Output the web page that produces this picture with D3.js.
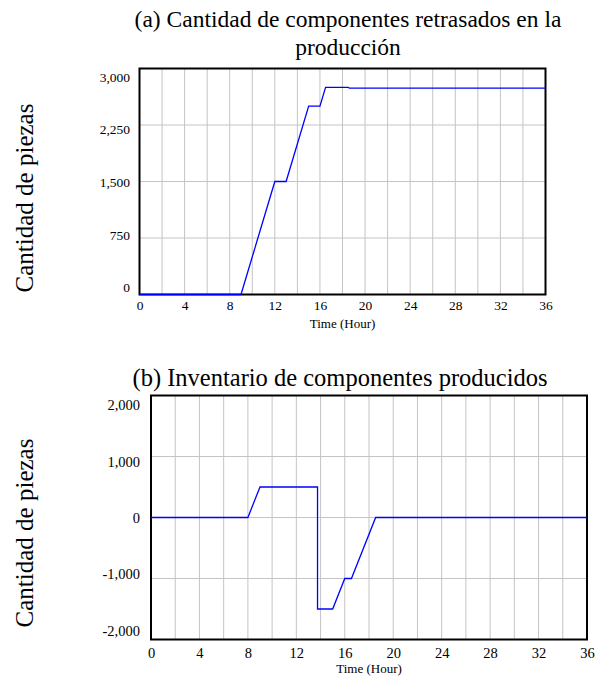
<!DOCTYPE html>
<html>
<head>
<meta charset="utf-8">
<script src="https://cdn.jsdelivr.net/npm/d3@7/dist/d3.min.js"></script>
<style>
  html, body { margin: 0; padding: 0; background: #fff; }
  svg text { font-family: "Liberation Serif", "Times New Roman", serif; fill: #000; }
</style>
</head>
<body>
<svg id="fig" width="606" height="678"></svg>
<script>
// Panel (a): delayed components in production
const timeA  = [0, 9, 12, 13, 15, 16, 16.5, 18.5, 18.6, 36];
const valueA = [0, 0, 1500, 1500, 2500, 2500, 2750, 2750, 2740, 2740];
const yTicksA = [0, 750, 1500, 2250, 3000];

// Panel (b): inventory of produced components
const timeB  = [0, 8, 9, 13.75, 13.75, 15, 16, 16.55, 18.55, 36];
const valueB = [0, 0, 500, 500, -1500, -1500, -1000, -1000, 0, 0];
const yTicksB = [-2000, -1000, 0, 1000, 2000];

const xTicks = [0, 4, 8, 12, 16, 20, 24, 28, 32, 36];
const xGrid  = d3.range(0, 37, 2);

const titleA = ["(a) Cantidad de componentes retrasados en la", "producción"];
const titleB = ["(b) Inventario de componentes producidos"];
const yTitle = "Cantidad de piezas";
const xTitle = "Time (Hour)";

const locale = d3.formatLocale({decimal: ".", thousands: ",", grouping: [3], currency: ["", ""], minus: "-"});
const fmt = locale.format(",");

const svg = d3.select("#fig");

function panel(cfg) {
  const x = d3.scaleLinear().domain([0, 36]).range([cfg.left, cfg.right]);
  const y = d3.scaleLinear().domain(cfg.yDomain).range([cfg.bottom, cfg.top]);
  // tick labels sit slightly inside the frame at the ends
  const yLab = d3.scaleLinear().domain(cfg.yDomain).range([cfg.bottom - cfg.labInsetBottom, cfg.top + cfg.labInsetTop]);
  const g = svg.append("g");

  // grid
  g.append("g").selectAll("line").data(xGrid).join("line")
    .attr("x1", d => x(d)).attr("x2", d => x(d))
    .attr("y1", cfg.top).attr("y2", cfg.bottom)
    .attr("stroke", "#c4c4c4").attr("stroke-width", 1);
  g.append("g").selectAll("line").data(cfg.yTicks).join("line")
    .attr("x1", cfg.left).attr("x2", cfg.right)
    .attr("y1", d => y(d)).attr("y2", d => y(d))
    .attr("stroke", "#c4c4c4").attr("stroke-width", 1);

  // frame
  g.append("rect")
    .attr("x", cfg.left).attr("y", cfg.top)
    .attr("width", cfg.right - cfg.left).attr("height", cfg.bottom - cfg.top)
    .attr("fill", "none").attr("stroke", "#000").attr("stroke-width", 2);

  // series
  const pts = cfg.t.map((t, i) => [t, cfg.v[i]]);
  g.append("path").datum(pts)
    .attr("d", d3.line().x(d => x(d[0])).y(d => y(d[1])))
    .attr("fill", "none").attr("stroke", "#0000ff").attr("stroke-width", 1.3);

  // axes
  const ax = g.append("g").attr("transform", `translate(0,${cfg.bottom})`)
    .call(d3.axisBottom(x).tickValues(xTicks).tickSize(0).tickPadding(cfg.xPad).tickFormat(d3.format("d")));
  ax.select(".domain").remove();
  ax.selectAll("text").style("font-size", cfg.tickFont + "px").style("font-family", "Liberation Serif");

  const ay = g.append("g").attr("transform", `translate(${cfg.left},0)`)
    .call(d3.axisLeft(yLab).tickValues(cfg.yTicks).tickSize(0).tickPadding(cfg.yPad).tickFormat(fmt));
  ay.select(".domain").remove();
  ay.selectAll("text").style("font-size", cfg.tickFont + "px").style("font-family", "Liberation Serif");

  // x title
  g.append("text").attr("x", (cfg.left + cfg.right) / 2).attr("y", cfg.bottom + cfg.xTitleDy)
    .attr("text-anchor", "middle").style("font-size", "13px").text(xTitle);

  // y title
  g.append("text").attr("transform", `translate(33,${cfg.yTitleY}) rotate(-90)`)
    .attr("text-anchor", "middle").style("font-size", "25px").text(yTitle);

  // panel title
  g.append("g").selectAll("text").data(cfg.title).join("text")
    .attr("x", cfg.titleX).attr("y", (d, i) => cfg.titleY + i * 27.5)
    .attr("text-anchor", "middle").style("font-size", cfg.titleFont + "px").text(d => d);
}

panel({
  left: 139.5, right: 545.5, top: 68.5, bottom: 294.5,
  yDomain: [0, 3000], yTicks: yTicksA, t: timeA, v: valueA,
  labInsetTop: 8.5, labInsetBottom: 7, xPad: 6, yPad: 9.5, tickFont: 13.5,
  xTitleDy: 33, yTitleY: 198, title: titleA, titleX: 348, titleY: 27, titleFont: 23.5
});

panel({
  left: 151, right: 587, top: 395.5, bottom: 639.5,
  yDomain: [-2000, 2000], yTicks: yTicksB, t: timeB, v: valueB,
  labInsetTop: 9.5, labInsetBottom: 9, xPad: 8, yPad: 11, tickFont: 14.5,
  xTitleDy: 33, yTitleY: 533, title: titleB, titleX: 340, titleY: 386, titleFont: 24.5
});
</script>
</body>
</html>
